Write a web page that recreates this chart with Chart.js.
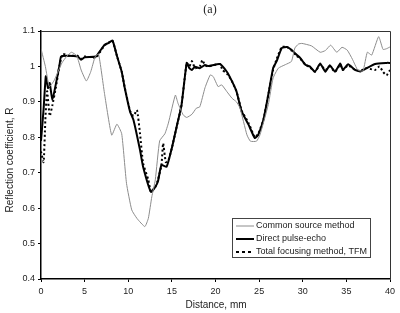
<!DOCTYPE html>
<html>
<head>
<meta charset="utf-8">
<script src="https://cdn.jsdelivr.net/npm/chart.js@4/dist/chart.umd.min.js"></script>
<style>
  html, body { margin: 0; padding: 0; background: #fff; }
  #wrap { width: 400px; height: 313px; position: relative; }
</style>
</head>
<body>
<div id="wrap"><canvas id="chart" width="400" height="313"></canvas></div>
<script>
// --- data ---
const xTicks = [0, 5, 10, 15, 20, 25, 30, 35, 40];
const yTicks = [0.4, 0.5, 0.6, 0.7, 0.8, 0.9, 1.0, 1.1];

const seriesNames = ["Common source method", "Direct pulse-echo", "Total focusing method, TFM"];

// Common source method (thin grey)
const csDist = [0, 0.5, 0.95, 1.5, 2.4, 3.0, 3.5, 4.1, 4.6, 5.2, 5.7, 6.2, 6.6, 7.3, 8.1, 8.7, 9.25, 9.8, 10.4, 11.0, 11.9, 12.3, 12.7, 13.1, 13.6, 14.2, 14.6, 15.4, 15.7, 16.3, 16.7, 17.3, 17.8, 18.2, 18.8, 19.4, 19.75, 20.3, 20.7, 21.3, 21.9, 22.4, 22.8, 23.6, 24.0, 24.7, 25.1, 26.05, 26.6, 27.2, 28.0, 28.7, 29.1, 29.5, 29.9, 31.0, 32.0, 32.6, 33.2, 33.9, 34.5, 35.1, 35.7, 36.3, 36.9, 37.4, 37.9, 38.7, 39.2, 39.6, 40];
const csR = [1.05, 1.0, 0.943, 0.96, 1.01, 1.03, 1.04, 1.03, 0.99, 0.959, 0.985, 1.027, 1.035, 0.92, 0.806, 0.837, 0.81, 0.67, 0.595, 0.571, 0.548, 0.571, 0.632, 0.68, 0.79, 0.81, 0.84, 0.919, 0.896, 0.863, 0.856, 0.865, 0.882, 0.886, 0.94, 0.976, 0.971, 0.943, 0.948, 0.929, 0.91, 0.9, 0.883, 0.807, 0.789, 0.789, 0.807, 0.892, 0.967, 0.995, 1.005, 1.014, 1.052, 1.063, 1.065, 1.058, 1.04, 1.045, 1.06, 1.04, 1.054, 1.046, 1.02, 0.99, 0.987, 1.04, 1.032, 1.084, 1.048, 1.05, 1.055];

// Direct pulse-echo (thick black)
const dpDist = [0, 0.3, 0.55, 0.8, 1.0, 1.3, 1.7, 2.1, 2.3, 3.0, 4.2, 4.6, 5.0, 6.3, 6.75, 7.3, 7.7, 8.2, 8.7, 9.25, 9.6, 10.2, 10.6, 11.35, 11.7, 12.6, 13.1, 13.4, 13.8, 14.4, 15.0, 15.55, 16.1, 16.7, 17.0, 17.3, 17.65, 18.2, 18.8, 19.2, 20.5, 21.3, 21.85, 22.4, 23.0, 23.8, 24.5, 24.9, 25.5, 26.05, 26.6, 27.0, 27.6, 28.2, 28.7, 29.3, 29.7, 30.3, 30.8, 31.4, 32.0, 32.6, 33.1, 33.7, 34.3, 34.6, 35.2, 36.0, 36.6, 37.3, 38.3, 39.6, 40];
const dpR = [0.79, 0.88, 0.972, 0.939, 0.953, 0.905, 0.95, 1.0, 1.028, 1.03, 1.028, 1.019, 1.026, 1.028, 1.043, 1.061, 1.066, 1.073, 1.03, 0.985, 0.939, 0.873, 0.849, 0.764, 0.717, 0.646, 0.66, 0.675, 0.722, 0.717, 0.77, 0.83, 0.89, 1.01, 0.995, 0.99, 0.999, 0.995, 1.004, 1.001, 1.007, 0.985, 0.96, 0.93, 0.873, 0.835, 0.798, 0.807, 0.85, 0.92, 0.995, 1.014, 1.052, 1.055, 1.047, 1.033, 1.024, 1.005, 1.0, 0.985, 1.008, 0.985, 1.003, 0.985, 1.008, 0.99, 1.006, 0.99, 0.986, 0.995, 1.007, 1.01, 1.01];

// Total focusing method (dotted)
const tfmDist = [0, 0.3, 0.5, 0.7, 1.0, 1.3, 1.7, 2.1, 2.5, 3.3, 4.2, 4.6, 5.0, 6.3, 6.75, 7.3, 7.7, 8.2, 8.7, 9.25, 9.6, 10.2, 10.6, 11.0, 11.35, 11.7, 12.3, 12.6, 13.1, 13.4, 13.8, 14.0, 14.3, 14.6, 15.0, 15.55, 16.1, 16.7, 17.0, 17.3, 17.65, 18.2, 18.5, 18.8, 19.2, 20.5, 20.8, 21.3, 21.85, 22.4, 23.0, 23.8, 24.5, 24.9, 25.5, 26.05, 26.6, 27.0, 27.6, 28.2, 28.7, 29.3, 29.7, 30.3, 30.8, 31.4, 32.0, 32.6, 33.1, 33.7, 34.3, 34.6, 35.2, 36.0, 36.6, 37.3, 38.3, 38.8, 39.2, 39.6, 40];
const tfmR = [0.76, 0.73, 0.85, 0.93, 0.86, 0.89, 0.94, 1.0, 1.035, 1.03, 1.03, 1.022, 1.028, 1.025, 1.04, 1.06, 1.066, 1.072, 1.03, 0.985, 0.94, 0.875, 0.86, 0.877, 0.81, 0.727, 0.68, 0.646, 0.66, 0.68, 0.72, 0.783, 0.73, 0.735, 0.77, 0.83, 0.89, 1.01, 1.0, 1.015, 0.995, 1.0, 1.018, 1.003, 1.0, 1.007, 0.99, 0.98, 0.96, 0.93, 0.875, 0.84, 0.8, 0.81, 0.85, 0.92, 0.99, 1.02, 1.055, 1.055, 1.045, 1.03, 1.022, 1.005, 0.998, 0.985, 1.005, 0.99, 1.0, 0.985, 1.005, 0.99, 1.003, 0.99, 0.988, 0.995, 0.99, 1.0, 0.985, 0.975, 0.99];

function toPoints(xs, ys) {
  return xs.map((x, i) => ({ x: x, y: ys[i] }));
}

const FONT = "'Liberation Sans', Arial, sans-serif";
const seriesStyles = [
  { color: "#8c8c8c", width: 1, dash: [] },
  { color: "#000000", width: 2, dash: [] },
  { color: "#000000", width: 2, dash: [2, 2.5] }
];

// --------------------------
// extra drawing: frame, titles, legend
// --------------------------
const decorPlugin = {
  id: "decor",
  afterDraw(chart) {
    const ctx = chart.ctx;
    const a = chart.chartArea;
    ctx.save();

    // top and right frame lines
    ctx.strokeStyle = "#333";
    ctx.lineWidth = 1;
    ctx.beginPath();
    ctx.moveTo(a.left, a.top + 0.5);
    ctx.lineTo(a.right + 0.5, a.top + 0.5);
    ctx.lineTo(a.right + 0.5, a.bottom);
    ctx.stroke();

    // "(a)"
    ctx.fillStyle = "#222";
    ctx.font = "12px 'Liberation Serif', 'Times New Roman', serif";
    ctx.textAlign = "center";
    ctx.textBaseline = "middle";
    ctx.fillText("(a)", 210, 10);

    // axis titles
    ctx.font = "10px " + FONT;
    ctx.fillText("Distance, mm", 216, 305);
    ctx.save();
    ctx.translate(10, 160);
    ctx.rotate(-Math.PI / 2);
    ctx.fillText("Reflection coefficient, R", 0, 0);
    ctx.restore();

    // legend box
    const bx = 232.5, by = 218.5, bw = 138, bh = 39;
    ctx.fillStyle = "#fff";
    ctx.fillRect(bx, by, bw, bh);
    ctx.strokeStyle = "#444";
    ctx.lineWidth = 1;
    ctx.strokeRect(bx, by, bw, bh);
    ctx.font = "9px " + FONT;
    ctx.textAlign = "left";
    seriesNames.forEach((name, i) => {
      const y = 226 + i * 13;
      const s = seriesStyles[i];
      ctx.strokeStyle = s.color;
      ctx.lineWidth = s.width;
      ctx.setLineDash(i === 2 ? [3, 3] : []);
      ctx.beginPath();
      ctx.moveTo(236, y);
      ctx.lineTo(254, y);
      ctx.stroke();
      ctx.setLineDash([]);
      ctx.fillStyle = "#222";
      ctx.fillText(name, 256, y);
    });
    ctx.restore();
  }
};

new Chart(document.getElementById("chart"), {
  type: "line",
  data: {
    datasets: [
      { label: seriesNames[0], data: toPoints(csDist, csR) },
      { label: seriesNames[1], data: toPoints(dpDist, dpR) },
      { label: seriesNames[2], data: toPoints(tfmDist, tfmR) }
    ].map((d, i) => Object.assign(d, {
      borderColor: seriesStyles[i].color,
      borderWidth: seriesStyles[i].width,
      borderDash: seriesStyles[i].dash,
      pointRadius: 0,
      tension: 0.15,
      fill: false
    }))
  },
  options: {
    responsive: false,
    animation: false,
    layout: { padding: { top: 31, right: 10, left: 0, bottom: 0 } },
    plugins: { legend: { display: false }, tooltip: { enabled: false } },
    scales: {
      x: {
        type: "linear",
        min: 0, max: 40,
        afterFit: s => { s.height = 34; },
        afterBuildTicks: s => { s.ticks = xTicks.map(v => ({ value: v })); },
        ticks: { color: "#222", font: { family: FONT, size: 9 }, padding: 4, maxRotation: 0 },
        grid: { drawOnChartArea: false, tickLength: 3, color: "#000" },
        border: { color: "#000", width: 1.5 }
      },
      y: {
        min: 0.4, max: 1.1,
        afterFit: s => { s.width = 41; },
        afterBuildTicks: s => { s.ticks = yTicks.map(v => ({ value: v })); },
        ticks: {
          color: "#222", font: { family: FONT, size: 9 }, padding: 3,
          callback: v => String(Math.round(v * 10) / 10)
        },
        grid: { drawOnChartArea: false, tickLength: 3, color: "#000" },
        border: { color: "#000", width: 1.5 }
      }
    }
  },
  plugins: [decorPlugin]
});
</script>
</body>
</html>
